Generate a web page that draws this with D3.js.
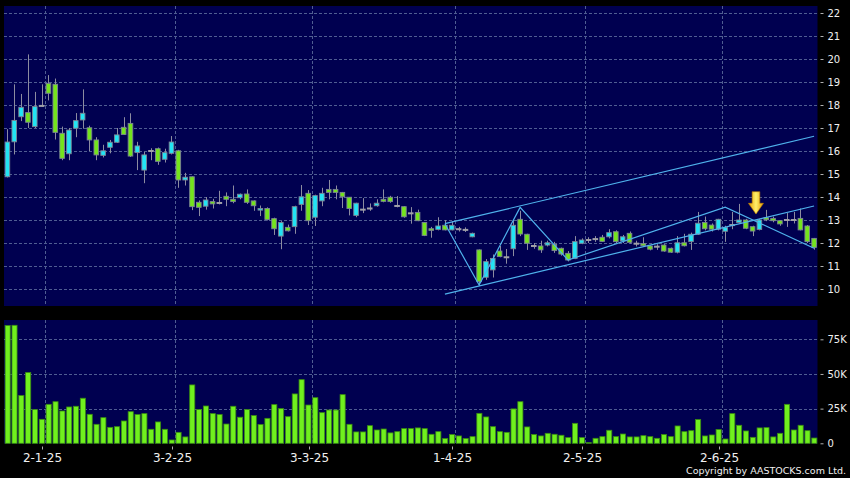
<!DOCTYPE html>
<html><head><meta charset="utf-8">
<script src="https://cdn.jsdelivr.net/npm/d3@7"></script>
<style>html,body{margin:0;padding:0;background:#000;}svg{display:block;}</style>
</head><body><svg id="c" width="850" height="478"></svg>
<script>
const dates = [
"2024-12-20","2024-12-23","2024-12-24","2024-12-27","2024-12-30","2024-12-31",
"2025-01-02","2025-01-03","2025-01-06","2025-01-07","2025-01-08","2025-01-09","2025-01-10","2025-01-13","2025-01-14","2025-01-15","2025-01-16","2025-01-17","2025-01-20","2025-01-21","2025-01-22","2025-01-23","2025-01-24","2025-01-27","2025-01-28",
"2025-02-03","2025-02-04","2025-02-05","2025-02-06","2025-02-07","2025-02-10","2025-02-11","2025-02-12","2025-02-13","2025-02-14","2025-02-17","2025-02-18","2025-02-19","2025-02-20","2025-02-21","2025-02-24","2025-02-25","2025-02-26","2025-02-27","2025-02-28",
"2025-03-03","2025-03-04","2025-03-05","2025-03-06","2025-03-07","2025-03-10","2025-03-11","2025-03-12","2025-03-13","2025-03-14","2025-03-17","2025-03-18","2025-03-19","2025-03-20","2025-03-21","2025-03-24","2025-03-25","2025-03-26","2025-03-27","2025-03-28","2025-03-31",
"2025-04-01","2025-04-02","2025-04-03","2025-04-07","2025-04-08","2025-04-09","2025-04-10","2025-04-11","2025-04-14","2025-04-15","2025-04-16","2025-04-17","2025-04-22","2025-04-23","2025-04-24","2025-04-25","2025-04-28","2025-04-29","2025-04-30",
"2025-05-02","2025-05-06","2025-05-07","2025-05-08","2025-05-09","2025-05-12","2025-05-13","2025-05-14","2025-05-15","2025-05-16","2025-05-19","2025-05-20","2025-05-21","2025-05-22","2025-05-23","2025-05-26","2025-05-27","2025-05-28","2025-05-29","2025-05-30",
"2025-06-02","2025-06-03","2025-06-04","2025-06-05","2025-06-06","2025-06-09","2025-06-10","2025-06-11","2025-06-12","2025-06-13","2025-06-16","2025-06-17","2025-06-18","2025-06-19"
];
const open = [14.88,16.40,17.49,17.67,17.06,17.96,18.94,18.90,16.77,15.88,
16.99,17.35,17.01,16.48,15.81,16.16,16.38,17.03,17.20,15.93,
15.17,16.00,16.10,15.64,15.90,16.01,14.74,14.88,13.77,13.60,
13.80,13.74,14.03,13.90,13.97,14.13,13.83,13.43,13.50,13.06,
12.30,12.68,12.71,13.68,14.16,13.12,13.83,14.33,14.33,14.20,
13.99,13.20,13.45,13.50,13.62,13.90,13.99,13.61,13.58,13.29,
13.33,12.89,12.62,12.59,12.77,12.57,12.60,12.57,12.27,11.70,
10.51,10.83,11.65,11.38,11.75,13.03,12.38,11.87,11.87,11.91,
11.94,11.77,11.55,11.33,11.99,12.13,12.17,12.25,12.27,12.49,
12.09,12.42,11.97,11.97,11.87,11.84,11.91,11.77,11.60,12.01,
12.06,12.38,12.89,12.78,12.60,12.51,12.78,12.89,13.00,12.71,
12.59,13.10,13.07,12.97,13.00,13.00,13.07,12.74,12.20];
const high = [16.95,18.90,18.48,20.20,18.57,18.90,19.30,19.15,17.06,17.00,
17.65,18.68,17.10,16.60,16.27,16.48,17.00,17.47,17.64,16.40,
15.96,16.12,16.15,16.10,16.65,16.05,15.05,14.90,13.85,14.00,
13.92,14.27,14.20,14.50,14.15,14.33,13.85,13.63,13.55,13.10,
12.95,12.80,13.62,14.52,14.30,14.10,14.40,14.74,14.50,14.22,
14.00,13.75,13.95,13.72,13.90,14.33,14.05,14.04,13.60,13.56,
13.45,12.90,12.70,13.12,13.00,12.95,12.70,12.68,12.45,11.72,
11.30,11.50,11.87,11.74,13.00,13.40,12.40,12.00,12.10,12.10,
12.05,11.80,11.65,12.30,12.20,12.25,12.30,12.35,12.60,12.55,
12.35,12.50,12.10,12.25,11.90,11.95,11.95,11.80,12.30,12.40,
12.45,13.35,13.15,12.85,13.05,12.75,13.35,13.70,13.05,12.75,
13.05,13.44,13.15,13.00,13.30,13.35,13.50,12.78,12.22];
const low = [14.85,15.85,17.30,17.00,17.00,17.92,18.20,16.50,15.60,15.60,
16.60,16.97,16.00,15.60,15.72,15.90,16.35,16.70,15.74,15.17,
14.60,15.60,15.40,15.50,15.85,14.40,14.50,13.43,13.17,13.45,
13.50,13.68,13.60,13.73,13.90,13.70,13.40,13.17,12.98,12.35,
11.73,12.50,12.40,13.40,12.78,12.74,13.60,13.90,13.90,13.52,
13.20,13.12,13.30,13.40,13.58,13.77,13.75,13.55,13.10,12.84,
12.95,12.30,12.23,12.55,12.55,12.55,12.50,12.48,12.25,10.14,
10.40,10.50,11.38,11.10,11.43,12.30,11.70,11.75,11.57,11.85,
11.57,11.45,11.20,11.30,11.95,12.00,12.05,12.05,12.20,12.00,
12.00,11.98,11.85,11.85,11.68,11.70,11.62,11.57,11.55,11.85,
11.70,12.35,12.55,12.50,12.55,12.05,12.60,12.85,12.60,12.30,
12.55,12.95,12.90,12.75,12.70,12.85,12.55,12.00,11.71];
const close = [16.39,17.33,17.90,17.25,17.93,17.96,18.51,16.81,15.68,16.91,
17.32,17.64,16.48,15.83,16.01,16.38,16.70,16.72,15.78,16.22,
15.83,16.00,15.55,15.93,16.39,14.74,14.86,13.58,13.55,13.87,
13.70,13.74,13.90,13.80,14.12,13.77,13.62,13.50,13.02,12.62,
12.89,12.53,13.58,14.01,12.97,14.06,14.16,14.20,14.20,14.01,
13.50,13.73,13.45,13.50,13.73,13.81,13.80,13.61,13.14,13.29,
12.97,12.33,12.55,12.74,12.57,12.77,12.60,12.57,12.42,10.32,
11.19,11.33,11.41,11.38,12.77,12.39,11.99,11.87,11.70,12.01,
11.67,11.52,11.26,12.06,12.13,12.13,12.17,12.07,12.45,12.06,
12.27,12.03,11.97,11.88,11.73,11.84,11.65,11.60,12.01,11.88,
12.38,12.86,12.62,12.60,13.03,12.67,12.78,13.00,12.64,12.52,
13.00,13.01,12.97,12.83,13.00,13.00,12.57,12.06,11.81];
// volume in thousands
const volume = [84.9,85.1,34.4,51.0,24.3,17.3,28.1,30.0,23.3,26.2,
26.7,32.5,20.9,13.7,18.5,11.5,12.0,16.1,22.8,20.7,
21.4,10.1,15.4,10.1,2.4,7.9,4.6,42.1,24.3,26.9,
21.4,20.7,13.9,26.7,18.8,24.3,20.0,13.5,18.0,27.9,
25.0,19.2,35.6,45.9,27.6,32.9,22.1,24.0,24.0,35.1,
13.7,8.2,8.2,12.7,9.6,10.3,7.5,8.4,10.6,10.6,
11.1,10.6,6.5,8.4,3.4,6.3,5.3,3.4,4.8,21.6,
19.0,12.0,8.4,7.9,24.8,30.0,11.8,6.3,5.3,7.2,
6.5,5.8,4.1,14.4,4.1,0.5,3.6,4.8,9.4,4.8,
6.7,4.6,4.6,5.5,4.8,3.6,6.3,4.8,12.5,8.4,
9.1,17.1,5.3,6.0,9.9,3.1,21.4,13.0,8.9,4.3,
11.1,11.3,4.6,7.2,28.1,9.6,13.0,9.1,3.8];
const priceTicks = [10,11,12,13,14,15,16,17,18,19,20,21,22];
const volTicks = [0,25,50,75];
const volTickLabels = ["0","25K","50K","75K"];
const xTickDates = ["2025-01-02","2025-02-03","2025-03-03","2025-04-01","2025-05-02","2025-06-02"];
const xTickLabels = ["2-1-25","3-2-25","3-3-25","1-4-25","2-5-25","2-6-25"];
const upperChannel = [{d:"2025-03-28",p:12.84},{d:"2025-06-19",p:16.64}];
const lowerChannel = [{d:"2025-03-28",p:9.78},{d:"2025-06-19",p:13.61}];
const zigzag = [{d:"2025-03-28",p:12.84},{d:"2025-04-07",p:10.17},{d:"2025-04-15",p:13.55},
                {d:"2025-04-28",p:11.26},{d:"2025-06-02",p:13.56},{d:"2025-06-19",p:11.77}];
const arrowMark = {d:"2025-06-09", p:13.26};
const copyright = "Copyright by AASTOCKS.com Ltd.";

const svg = d3.select("#c");
svg.append("rect").attr("width",850).attr("height",478).attr("fill","#000");

const x = d3.scaleBand().domain(dates).range([4,817.5]).paddingInner(0).paddingOuter(0);
const step = x.step();
const mid = d => x(d) + step/2;
const bw = 5.6;
const y = d3.scaleLinear().domain([10,22]).range([289,13]);
const yv = d3.scaleLinear().domain([0,75]).range([443.3,339.3]);

const P = {l:4, r:817.5, t:6, b:306};
const V = {t:320, b:443.5};
const gridColor = "#505d92";

// panels
svg.append("rect").attr("x",P.l).attr("y",P.t).attr("width",P.r-P.l).attr("height",P.b-P.t).attr("fill","#000050");
svg.append("rect").attr("x",P.l).attr("y",V.t).attr("width",P.r-P.l).attr("height",V.b-V.t).attr("fill","#000050");

// grids
const g = svg.append("g").attr("stroke",gridColor).attr("stroke-width",1).attr("stroke-dasharray","3,2").attr("fill","none");
priceTicks.forEach(t=>{ g.append("line").attr("x1",P.l).attr("x2",P.r).attr("y1",Math.round(y(t))+0.5).attr("y2",Math.round(y(t))+0.5); });
volTicks.filter(t=>t>0).forEach(t=>{ g.append("line").attr("x1",P.l).attr("x2",P.r).attr("y1",Math.round(yv(t))+0.5).attr("y2",Math.round(yv(t))+0.5); });
xTickDates.forEach(d=>{
  const xx = Math.round(x(d))+0.5;
  g.append("line").attr("x1",xx).attr("x2",xx).attr("y1",P.t).attr("y2",P.b);
  g.append("line").attr("x1",xx).attr("x2",xx).attr("y1",V.t).attr("y2",V.b);
});

// candles
const cg = svg.append("g");
dates.forEach((d,i)=>{
  const cx = Math.round(mid(d))+0.5;
  const o=open[i], c=close[i], h=high[i], l=low[i];
  cg.append("line").attr("x1",cx).attr("x2",cx).attr("y1",y(h)).attr("y2",y(l)).attr("stroke","#8c8ca0").attr("stroke-width",1);
  if (o===c) {
    cg.append("rect").attr("x",mid(d)-bw/2).attr("y",y(o)-1).attr("width",bw).attr("height",2).attr("fill","#a0a0a8");
  } else {
    const up = c>o;
    const top = y(Math.max(o,c)), bot = y(Math.min(o,c));
    cg.append("rect").attr("x",mid(d)-bw/2+0.5).attr("y",top).attr("width",bw-1).attr("height",Math.max(1.5,bot-top))
      .attr("fill", up ? "#22e4f4" : "#74e41c").attr("stroke","#7c8494").attr("stroke-width",0.9);
  }
});

// trend lines
const line = d3.line().x(p=>mid(p.d)).y(p=>y(p.p));
const tl = svg.append("g").attr("fill","none").attr("stroke","#4fb2ec").attr("stroke-width",1.2);
[upperChannel, lowerChannel, zigzag].forEach(a=> tl.append("path").attr("d", line(a)));

// arrow
const defs = svg.append("defs");
const grad = defs.append("linearGradient").attr("id","ag").attr("x1","0").attr("x2","1").attr("y1","0").attr("y2","0");
grad.append("stop").attr("offset","0").attr("stop-color","#e39a00");
grad.append("stop").attr("offset","0.5").attr("stop-color","#fff06a");
grad.append("stop").attr("offset","1").attr("stop-color","#e39a00");
{
  const ax = x(arrowMark.d), ty = y(arrowMark.p);
  const pts = [[ax-3.8,ty-22.3],[ax+3.8,ty-22.3],[ax+3.8,ty-10.7],[ax+7.5,ty-10.7],[ax,ty],[ax-7.5,ty-10.7],[ax-3.8,ty-10.7]];
  svg.append("path").attr("d", "M"+pts.map(p=>p.join(",")).join("L")+"Z").attr("fill","url(#ag)").attr("stroke","#c88400").attr("stroke-width",0.6);
}

// volume bars
const vg = svg.append("g");
dates.forEach((d,i)=>{
  vg.append("rect").attr("x",mid(d)-bw/2+0.5).attr("y",yv(volume[i])).attr("width",bw-0.5).attr("height",yv(0)-yv(volume[i]))
    .attr("fill","#70f01e").attr("stroke","#3a8c12").attr("stroke-width",0.8);
});

// y axes
const yAxis = d3.axisRight(y).tickValues(priceTicks).tickSize(3).tickPadding(4).tickFormat(d3.format("d"));
const ya = svg.append("g").attr("transform","translate(820.5,0)").call(yAxis);
const vAxis = d3.axisRight(yv).tickValues(volTicks).tickSize(3).tickPadding(4).tickFormat((d,i)=>volTickLabels[i]);
const va = svg.append("g").attr("transform","translate(820.5,0)").call(vAxis);
[ya,va].forEach(a=>{
  a.select(".domain").remove();
  a.selectAll(".tick line").attr("stroke","#b0b0b0");
  a.selectAll(".tick text").attr("fill","#f0f0f0").attr("font-family","DejaVu Sans").attr("font-size",10);
});

// x axis
const xa = svg.append("g");
xTickDates.forEach((d,i)=>{
  const xx = Math.round(x(d))-2.5;
  xa.append("line").attr("x1",xx).attr("x2",xx).attr("y1",446.5).attr("y2",449.5).attr("stroke","#b0b0b0");
  xa.append("text").attr("x",xx).attr("y",461.5).attr("text-anchor","middle").attr("fill","#f0f0f0")
    .attr("font-family","DejaVu Sans").attr("font-size",12).text(xTickLabels[i]);
});

svg.append("text").attr("x",846).attr("y",473.5).attr("text-anchor","end").attr("fill","#f0f0f0")
  .attr("font-family","DejaVu Sans").attr("font-size",9.5).text(copyright);
</script>
</body></html>
